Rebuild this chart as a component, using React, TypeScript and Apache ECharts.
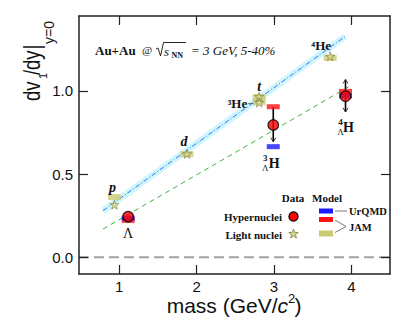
import React, { useEffect, useRef } from "react";
import * as echarts from "echarts";

// ---- data ----
const lightNames = ["p", "d", "t", "³He", "⁴He"];
const lightMass = [0.938, 1.876, 2.809, 2.809, 3.727];
const lightV1 = [0.316, 0.622, 0.966, 0.93, 1.208];
const lightJAM = [0.362, 0.62, 0.963, 0.932, 1.198];

const hyperNames = ["Λ", "³ΛH", "⁴ΛH"];
const hyperMass = [1.116, 2.991, 3.925];
const hyperV1 = [0.245, 0.795, 0.968];
const hyperErrHigh = [0.245, 0.905, 1.068];
const hyperErrLow = [0.245, 0.695, 0.874];
const hyperArrowTop = [0, 0, 1];
const hyperArrowBottom = [0, 1, 1];
const hyperUrQMD = [0.236, 0.665, 0.97];
const hyperJAM = [0.222, 0.905, 0.997];

const lightFitMass = [0.79, 3.92];
const lightFitV1 = [0.28, 1.327];
const hyperFitMass = [0.79, 4.0];
const hyperFitV1 = [0.17, 1.034];

const zeroLineMass = [0.48, 4.5];
const zeroLineV1 = [0, 0];

const xTicks = [1, 2, 3, 4];
const yTicks = [0, 0.5, 1.0];
const xRange = [0.48, 4.5];
const yRange = [-0.1, 1.45];

const SERIF = '"Liberation Serif", "Times New Roman", serif';
const SANS = '"Liberation Sans", Arial, Helvetica, sans-serif';
const KHAKI = "#cbcb74";
const STAR_PATH =
  "path://M10,0L12.35,6.76L19.51,6.91L13.8,11.24L15.88,18.09L10,14L4.12,18.09L6.2,11.24L0.49,6.91L7.65,6.76Z";

function starPoints(cx: number, cy: number, r: number) {
  const pts: number[][] = [];
  for (let i = 0; i < 10; i++) {
    const a = -Math.PI / 2 + (i * Math.PI) / 5;
    const rr = i % 2 === 0 ? r : r * 0.4;
    pts.push([cx + rr * Math.cos(a), cy + rr * Math.sin(a)]);
  }
  return pts;
}

function txt(text: string, x: number, y: number, font: string, align = "center", vAlign = "middle", extra: any = {}, lineHeight?: number) {
  const style: any = {
    text,
    font,
    fill: "#111",
    align,
    verticalAlign: vAlign,
    textAlign: align,
    textVerticalAlign: vAlign,
  };
  if (lineHeight) style.lineHeight = lineHeight;
  return {
    type: "text",
    x,
    y,
    silent: true,
    z: 100,
    ...extra,
    style,
  };
}

export default function App() {
  const ref = useRef<HTMLDivElement>(null);
  useEffect(() => {
    document.body.style.margin = "0";
    if (!ref.current) return;
    const chart = echarts.init(ref.current, undefined, { renderer: "svg" });

    const pairs = (xs: number[], ys: number[]) => xs.map((x, i) => [x, ys[i]]);

    const axisLine = { show: true, onZero: false, lineStyle: { color: "#222", width: 1.5 } };
    const tickStyle = { show: true, inside: true, length: 9, lineStyle: { color: "#222", width: 1.2 } };

    chart.setOption({
      animation: false,
      backgroundColor: "#fff",
      grid: { left: 79, top: 16, right: 25, bottom: 49, containLabel: false },
      xAxis: [
        {
          type: "value",
          min: xRange[0],
          max: xRange[1],
          axisLine,
          axisTick: { ...tickStyle, customValues: xTicks },
          axisLabel: {
            customValues: xTicks,
            margin: 5,
            fontSize: 15,
            lineHeight: 14,
            fontFamily: SANS,
            color: "#111",
          },
          splitLine: { show: false },
          z: 10,
        },
        {
          type: "value",
          position: "top",
          min: xRange[0],
          max: xRange[1],
          axisLine,
          axisTick: { ...tickStyle, customValues: xTicks },
          axisLabel: { show: false, customValues: xTicks },
          splitLine: { show: false },
          z: 10,
        },
      ],
      yAxis: [
        {
          type: "value",
          min: yRange[0],
          max: yRange[1],
          axisLine,
          axisTick: { ...tickStyle, customValues: yTicks },
          axisLabel: {
            customValues: yTicks,
            margin: 6,
            fontSize: 15,
            fontFamily: SANS,
            color: "#111",
            formatter: (v: number) => v.toFixed(1),
          },
          splitLine: { show: false },
          z: 10,
        },
        {
          type: "value",
          position: "right",
          min: yRange[0],
          max: yRange[1],
          axisLine,
          axisTick: { ...tickStyle, customValues: yTicks },
          axisLabel: { show: false, customValues: yTicks },
          splitLine: { show: false },
          z: 10,
        },
      ],
      series: [
        {
          type: "line",
          data: pairs(zeroLineMass, zeroLineV1),
          symbol: "none",
          lineStyle: { color: "#a3a3a3", width: 2, type: [10, 5] },
          z: 1,
          silent: true,
        },
        {
          type: "line",
          data: pairs(lightFitMass, lightFitV1),
          symbol: "none",
          lineStyle: { color: "#cdf6fd", width: 6.5, cap: "butt" },
          z: 1,
          silent: true,
        },
        {
          type: "line",
          data: pairs(lightFitMass, lightFitV1),
          symbol: "none",
          lineStyle: { color: "#3f6cff", width: 1, type: [5, 2, 1, 2] },
          z: 2,
          silent: true,
        },
        {
          type: "line",
          data: pairs(hyperFitMass, hyperFitV1),
          symbol: "none",
          lineStyle: { color: "#3cb43c", width: 1, type: [5, 4] },
          z: 2,
          silent: true,
        },
        {
          type: "scatter",
          name: "JAM light",
          data: pairs(lightMass, lightJAM),
          symbol: "rect",
          symbolSize: [13, 6],
          itemStyle: { color: KHAKI },
          z: 3,
        },
        {
          type: "custom",
          name: "errors",
          data: hyperMass.map((m, i) => [m, hyperErrHigh[i], hyperErrLow[i], hyperArrowTop[i], hyperArrowBottom[i]]),
          z: 4,
          renderItem: (params: any, api: any) => {
            const x = api.value(0);
            const hi = api.value(1);
            const lo = api.value(2);
            if (hi === lo) return { type: "group", children: [] };
            const t = api.coord([x, hi]);
            const b = api.coord([x, lo]);
            const children: any[] = [
              {
                type: "line",
                shape: { x1: t[0], y1: t[1], x2: b[0], y2: b[1] },
                style: { stroke: "#000", lineWidth: 1.6 },
              },
            ];
            if (api.value(3)) {
              children.push({
                type: "polyline",
                shape: { points: [[t[0] - 2.5, t[1] + 4], [t[0], t[1]], [t[0] + 2.5, t[1] + 4]] },
                style: { stroke: "#333", lineWidth: 1, fill: "none" },
              });
            }
            if (api.value(4)) {
              children.push({
                type: "polyline",
                shape: { points: [[b[0] - 2.5, b[1] - 4], [b[0], b[1]], [b[0] + 2.5, b[1] - 4]] },
                style: { stroke: "#333", lineWidth: 1, fill: "none" },
              });
            }
            return { type: "group", children };
          },
        },
        {
          type: "scatter",
          name: "JAM hyper",
          data: pairs(hyperMass, hyperJAM),
          symbol: "rect",
          symbolSize: [13, 5],
          itemStyle: { color: "#ff1010" },
          z: 5,
        },
        {
          type: "scatter",
          name: "UrQMD hyper",
          data: pairs(hyperMass, hyperUrQMD),
          symbol: "rect",
          symbolSize: [13, 5],
          itemStyle: { color: "#1a1aff" },
          z: 6,
        },
        {
          type: "scatter",
          name: "Light nuclei",
          data: pairs(lightMass, lightV1),
          symbol: STAR_PATH,
          symbolSize: 9,
          itemStyle: { color: "#d6d68c", borderColor: "#7d7d3a", borderWidth: 0.8 },
          z: 7,
        },
        {
          type: "scatter",
          name: "Hypernuclei",
          data: pairs(hyperMass, hyperV1),
          symbol: "circle",
          symbolSize: 10.5,
          itemStyle: { color: "#ff0000", borderColor: "#000", borderWidth: 1.2 },
          z: 8,
        },
      ],
    });

    const px = (x: number, y: number) =>
      chart.convertToPixel({ xAxisIndex: 0, yAxisIndex: 0 }, [x, y]) as number[];

    const g: any[] = [];
    // light nuclei labels
    const lp = lightMass.map((m, i) => px(m, lightV1[i]));
    g.push(txt(lightNames[0], lp[0][0] - 2, lp[0][1] - 17, `italic bold 14px ${SERIF}`));
    g.push(txt(lightNames[1], lp[1][0] - 3, lp[1][1] - 12, `italic bold 14px ${SERIF}`));
    g.push(txt(lightNames[2], lp[2][0], lp[2][1] - 10, `italic bold 14px ${SERIF}`));
    g.push(txt(lightNames[3], lp[3][0] - 12, lp[3][1] + 1, `bold 13px ${SERIF}`, "right"));
    g.push({
      type: "line",
      silent: true,
      z: 100,
      shape: { x1: lp[3][0] - 11, y1: lp[3][1] + 1, x2: lp[3][0] - 6, y2: lp[3][1] + 1 },
      style: { stroke: "#555", lineWidth: 0.8 },
    });
    g.push(txt(lightNames[4], lp[4][0] - 9, lp[4][1] - 11, `bold 13px ${SERIF}`));

    // hypernuclei labels
    const hp = hyperMass.map((m, i) => px(m, hyperV1[i]));
    g.push(txt(hyperNames[0], hp[0][0], hp[0][1] + 17, `14px ${SERIF}`));
    const hyperLabel = (p: number[], name: string, dxs: number, dys: number, dxH: number, dyH: number) => {
      const A = name.charAt(0) === "³" ? "3" : "4";
      g.push(txt(A, p[0] + dxs, p[1] + dys, `bold 9px ${SERIF}`));
      g.push(txt("Λ", p[0] + dxs, p[1] + dys + 10, `9px ${SERIF}`));
      g.push(txt("H", p[0] + dxH, p[1] + dyH, `bold 14px ${SERIF}`));
    };
    hyperLabel(hp[1], hyperNames[1], -8, 33, 1, 38);
    hyperLabel(hp[2], hyperNames[2], -5, 26, 3, 31);

    // title
    g.push(txt("Au+Au", 95, 50, `bold 13px ${SERIF}`, "left"));
    g.push(txt("@", 142, 50, `11px ${SERIF}`, "left"));
    g.push({
      type: "polyline",
      silent: true,
      z: 100,
      shape: { points: [[156, 49], [158, 48], [160.5, 56], [163.5, 42.5], [186, 42.5]] },
      style: { stroke: "#111", lineWidth: 0.9, fill: "none" },
    });
    g.push(txt("s", 164, 51, `italic 13px ${SERIF}`, "left"));
    g.push(txt("NN", 171.5, 55, `bold 8px ${SERIF}`, "left"));
    g.push(txt("= 3 GeV, 5-40%", 191, 50, `italic 13px ${SERIF}`, "left"));

    // legend
    g.push(txt("Data", 293, 198, `bold 11px ${SERIF}`));
    g.push(txt("Model", 327, 198, `bold 11px ${SERIF}`));
    g.push(txt("Hypernuclei", 282, 217, `bold 11px ${SERIF}`, "right"));
    g.push(txt("Light nuclei", 282, 235, `bold 11px ${SERIF}`, "right"));
    g.push({
      type: "circle",
      silent: true,
      z: 100,
      shape: { cx: 293.5, cy: 216.5, r: 4.6 },
      style: { fill: "#ff0000", stroke: "#000", lineWidth: 1.2 },
    });
    g.push({
      type: "polygon",
      silent: true,
      z: 100,
      shape: { points: starPoints(293.5, 234, 5) },
      style: { fill: "#d6d68c", stroke: "#7d7d3a", lineWidth: 0.8 },
    });
    g.push({ type: "rect", silent: true, z: 100, shape: { x: 319, y: 208.5, width: 14, height: 5 }, style: { fill: "#1a1aff" } });
    g.push({ type: "rect", silent: true, z: 100, shape: { x: 319, y: 217, width: 14, height: 5 }, style: { fill: "#ff1010" } });
    g.push({ type: "rect", silent: true, z: 100, shape: { x: 319, y: 230.5, width: 14, height: 6 }, style: { fill: KHAKI } });
    g.push({
      type: "line",
      silent: true,
      z: 100,
      shape: { x1: 335, y1: 211, x2: 347, y2: 211 },
      style: { stroke: "#555", lineWidth: 0.8 },
    });
    g.push({
      type: "polyline",
      silent: true,
      z: 100,
      shape: { points: [[335, 220], [346, 226.5], [335, 232.5]] },
      style: { stroke: "#555", lineWidth: 0.8, fill: "none" },
    });
    g.push(txt("UrQMD", 349, 211, `bold 10.5px ${SERIF}`, "left"));
    g.push(txt("JAM", 349, 227, `bold 10.5px ${SERIF}`, "left"));

    // x axis title
    g.push(txt("mass (GeV/", 277.5, 305, `21px ${SANS}`, "right", "middle", {}, 19));
    g.push(txt("c", 277.5, 305, `italic 21px ${SANS}`, "left", "middle", {}, 19));
    g.push(txt("2", 288, 298, `13px ${SANS}`, "left", "middle", {}, 11));
    g.push(txt(")", 294.5, 305, `21px ${SANS}`, "left", "middle", {}, 19));

    // y axis title (rotated)
    g.push({
      type: "group",
      x: 32,
      y: 101,
      rotation: Math.PI / 2,
      silent: true,
      z: 100,
      children: [
        txt("dv", 0, 0, `23px ${SANS}`, "left", "middle", { scaleX: 0.8 }),
        txt("1", 22, 11, `11px ${SANS}`, "left"),
        txt("/dy", 26, 0, `23px ${SANS}`, "left", "middle", { scaleX: 0.8 }),
        txt("|", 51.5, 0, `23px ${SANS}`, "left", "middle", { scaleX: 0.8 }),
        txt("y=0", 57, 17, `14px ${SANS}`, "left"),
      ],
    });

    chart.setOption({ graphic: { elements: g } });

    return () => chart.dispose();
  }, []);
  return <div ref={ref} style={{ width: 415, height: 323 }} />;
}
